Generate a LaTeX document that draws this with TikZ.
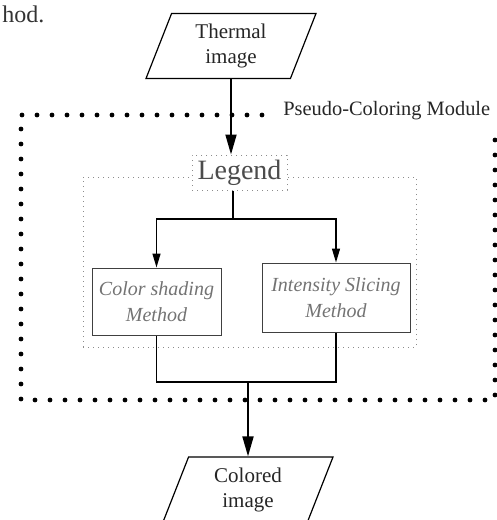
\documentclass[tikz,border=0pt]{standalone}
\usepackage{fontspec}
\setmainfont{Liberation Serif}
\usetikzlibrary{shapes.geometric,arrows.meta,positioning}

\begin{document}
\begin{tikzpicture}[x=0.5pt,y=-0.5pt,line width=0.7pt,
	io node/.style={trapezium,trapezium left angle=62,trapezium right angle=118,trapezium stretches body,draw,line width=0.6pt,minimum width=85pt,minimum height=32.5pt,align=center,inner sep=1pt,font=\fontsize{10.5}{12.5}\selectfont,text=black!85},
	method node/.style={rectangle,draw=black!75,line width=0.5pt,align=center,inner sep=1pt,font=\fontsize{10}{13}\selectfont\itshape,text=black!55},
	legend node/.style={rectangle,draw=black!45,dotted,line width=0.5pt,fill=white,inner sep=1pt,font=\fontsize{14}{16}\selectfont,text=black!70},
	group box/.style={rectangle,draw=black!45,dotted,line width=0.5pt},
	module box/.style={line width=2.4pt,line cap=round,dash pattern=on 0pt off 7.5pt},
	big arrow/.style={-{Triangle[length=10pt,width=5.5pt]},line width=0.9pt},
	small arrow/.style={-{Triangle[length=7pt,width=4pt]}}]
	
	\useasboundingbox (0,0) rectangle (497,520);
	
	\node[anchor=west,font=\fontsize{12}{14}\selectfont,text=black!80] (prev) at (-5,14) {hod.};
	\node[io node] (thermal) at (231,46) {Thermal\\image};
	\node[group box,minimum width=166.5pt,minimum height=85pt] (group) at (249.5,262) {};
	\node[legend node,minimum width=47.5pt,minimum height=17.5pt] (legend) at (239.5,172.5) {Legend};
	\node[method node,minimum width=64.5pt,minimum height=33.5pt] (shading) at (156.5,301.5) {Color shading\\Method};
	\node[method node,minimum width=74pt,minimum height=34.5pt] (slicing) at (336,297.5) {Intensity Slicing\\Method};
	\node[io node] (colored) at (248,489.5) {Colored\\image};
	\node[anchor=west,font=\fontsize{10.2}{12}\selectfont,text=black!85] (module) at (276,111) {Pseudo-Coloring Module};
	\coordinate (split) at (233,219);
	\coordinate (merge) at (248,382);
	
	% dotted module frame
	\draw[module box] (262,115) -- (21,115) -- (21,400) -- (495,400) -- (495,125);
	
	\draw[big arrow] (thermal) -- (thermal |- legend.north);
	\draw (split |- legend.south) -- (split);
	\draw[small arrow] (split) -| (shading.north);
	\draw[small arrow] (split) -| (slicing.north);
	\draw (shading.south) |- (merge) -| (slicing.south);
	\draw[big arrow] (merge) -- (colored.north);
	
\end{tikzpicture}
\end{document}
